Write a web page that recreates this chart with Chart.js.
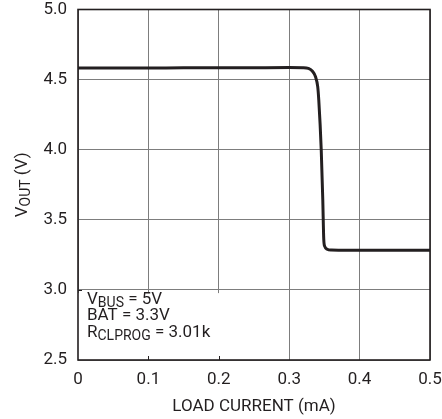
<!DOCTYPE html>
<html>
<head>
<meta charset="utf-8">
<script src="https://cdn.jsdelivr.net/npm/chart.js@4/dist/chart.umd.min.js"></script>
<style>
html,body{margin:0;padding:0;background:#fff;}
#wrap{width:442px;height:419px;position:relative;}
</style>
</head>
<body>
<div id="wrap"><canvas id="c" width="442" height="419"></canvas></div>
<script>
// ---- data ----
const loadCurrent = [0, 0.05, 0.1, 0.15, 0.2, 0.25, 0.3, 0.32, 0.327, 0.333, 0.3374, 0.3405, 0.342, 0.3455, 0.3477, 0.3491, 0.3505, 0.354, 0.36, 0.37, 0.4, 0.45, 0.5];
const vout        = [4.583, 4.583, 4.583, 4.584, 4.584, 4.585, 4.586, 4.585, 4.58, 4.56, 4.52, 4.45, 4.355, 4.0, 3.643, 3.36, 3.31, 3.29, 3.284, 3.283, 3.283, 3.283, 3.283];
const xTicks = [0, 0.1, 0.2, 0.3, 0.4, 0.5];
const yTicks = [2.5, 3.0, 3.5, 4.0, 4.5, 5.0];
const xTitle = 'LOAD CURRENT (mA)';
const yTitleMain = 'V', yTitleSub = 'OUT', yTitleRest = ' (V)';
const noteLines = [
  ['V', 'BUS', ' = 5V'],
  ['BAT = 3.3V', '', ''],
  ['R', 'CLPROG', ' = 3.01k']
];

const INK = '#231f20';
const FONT = 'Roboto';

const decor = {
  id: 'decor',
  beforeDatasetsDraw(chart) {
    const ctx = chart.ctx, a = chart.chartArea;
    const xs = chart.scales.x, ys = chart.scales.y;
    ctx.save();
    // white note box covering grid lines
    const bx1 = xs.getPixelForValue(0.2) + 2;
    const by0 = ys.getPixelForValue(2.97) - 1;
    ctx.fillStyle = '#fff';
    ctx.fillRect(a.left, by0, bx1 - a.left, a.bottom - by0);
    // inward tick marks on box edges
    ctx.strokeStyle = INK; ctx.lineWidth = 1;
    ctx.beginPath();
    [0.1, 0.2].forEach(v => {
      const px = Math.round(xs.getPixelForValue(v)) + 0.5;
      ctx.moveTo(px, a.bottom); ctx.lineTo(px, a.bottom - 4);
    });
    const py = Math.round(ys.getPixelForValue(3.0)) + 0.5;
    ctx.moveTo(a.left, py); ctx.lineTo(a.left + 4, py);
    ctx.stroke();
    // frame
    ctx.strokeStyle = INK; ctx.lineWidth = 1.6;
    ctx.strokeRect(a.left, a.top, a.right - a.left, a.bottom - a.top);
    // note text
    ctx.fillStyle = INK;
    ctx.textBaseline = 'alphabetic';
    ctx.textAlign = 'left';
    const baselines = [303.5, 319.5, 336.5];
    noteLines.forEach((ln, i) => {
      let x = a.left + 9;
      const y = baselines[i];
      ctx.font = '17px ' + FONT;
      ctx.fillText(ln[0], x, y); x += ctx.measureText(ln[0]).width;
      if (ln[1]) {
        ctx.font = '14px ' + FONT;
        ctx.fillText(ln[1], x, y + 3); x += ctx.measureText(ln[1]).width;
      }
      if (ln[2]) {
        ctx.font = '17px ' + FONT;
        ctx.fillText(ln[2], x, y);
      }
    });
    // y axis title (rotated with subscript)
    ctx.save();
    const cy = (a.top + a.bottom) / 2;
    ctx.translate(27, cy);
    ctx.rotate(-Math.PI / 2);
    ctx.font = '17px ' + FONT;
    const w1 = ctx.measureText(yTitleMain).width;
    const w3 = ctx.measureText(yTitleRest).width;
    ctx.font = '14px ' + FONT;
    const w2 = ctx.measureText(yTitleSub).width;
    let x = -(w1 + w2 + w3) / 2;
    ctx.font = '17px ' + FONT;
    ctx.fillText(yTitleMain, x, 0); x += w1;
    ctx.font = '14px ' + FONT;
    ctx.fillText(yTitleSub, x, 3); x += w2;
    ctx.font = '17px ' + FONT;
    ctx.fillText(yTitleRest, x, 0);
    ctx.restore();
    // x axis title
    ctx.font = '17px ' + FONT;
    ctx.textAlign = 'center';
    ctx.fillText(xTitle, (a.left + a.right) / 2, 410.5);
    ctx.restore();
  }
};

function noPad(s) { s.paddingTop = 0; s.paddingBottom = 0; s.paddingLeft = 0; s.paddingRight = 0; }

new Chart(document.getElementById('c'), {
  type: 'line',
  data: {
    datasets: [{
      data: loadCurrent.map((x, i) => ({x: x, y: vout[i]})),
      borderColor: INK,
      borderWidth: 3,
      pointRadius: 0,
      cubicInterpolationMode: 'monotone',
      fill: false
    }]
  },
  options: {
    responsive: false,
    animation: false,
    events: [],
    layout: { padding: { left: 0, top: 9.5, right: 12, bottom: 0 } },
    plugins: { legend: { display: false }, tooltip: { enabled: false } },
    scales: {
      x: {
        type: 'linear', min: 0, max: 0.5,
        afterFit(s) { s.height = 59; noPad(s); },
        afterBuildTicks(s) { s.ticks = xTicks.map(v => ({value: v})); },
        grid: { color: '#7d7d7d', lineWidth: 1, drawTicks: false },
        border: { display: false },
        ticks: {
          padding: 11, color: INK, maxRotation: 0, autoSkip: false,
          font: { family: FONT, size: 17, lineHeight: 1 },
          callback: v => (v === 0 ? '0' : v.toFixed(1))
        }
      },
      y: {
        type: 'linear', min: 2.5, max: 5.0,
        afterFit(s) { s.width = 78; noPad(s); },
        afterBuildTicks(s) { s.ticks = yTicks.map(v => ({value: v})); },
        grid: { color: '#7d7d7d', lineWidth: 1, drawTicks: false },
        border: { display: false },
        ticks: {
          padding: 11, color: INK, autoSkip: false,
          font: { family: FONT, size: 17, lineHeight: 1 },
          callback: v => v.toFixed(1)
        }
      }
    }
  },
  plugins: [decor]
});
</script>
</body>
</html>
